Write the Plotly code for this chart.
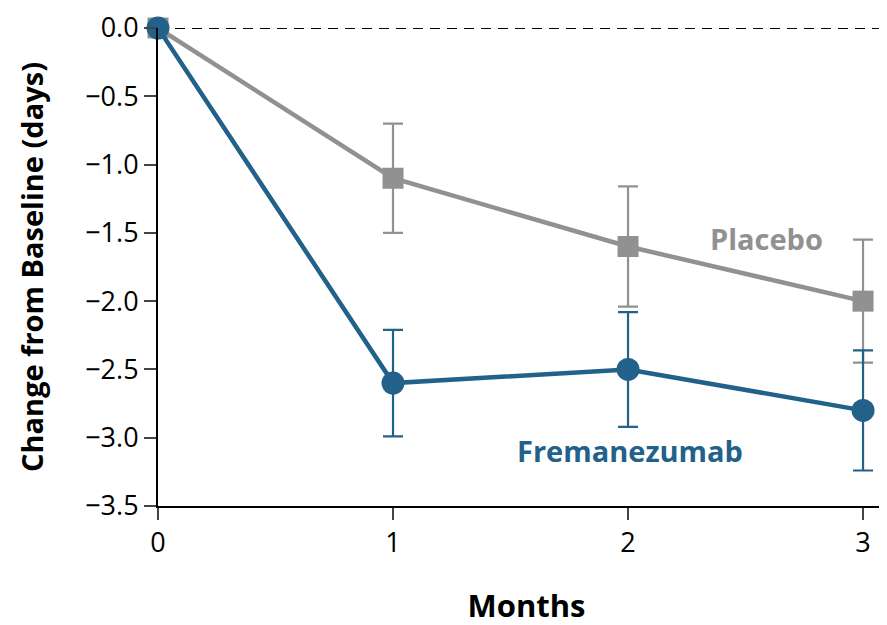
import plotly.graph_objects as go

months = [0, 1, 2, 3]
placebo = [0.0, -1.1, -1.6, -2.0]
placebo_err = [0.0, 0.40, 0.44, 0.45]
fremanezumab = [0.0, -2.6, -2.5, -2.8]
fremanezumab_err = [0.0, 0.39, 0.42, 0.44]
y_ticks = [0.0, -0.5, -1.0, -1.5, -2.0, -2.5, -3.0, -3.5]
y_ticktext = ["0.0", "\u22120.5", "\u22121.0", "\u22121.5", "\u22122.0", "\u22122.5", "\u22123.0", "\u22123.5"]
x_ticks = [0, 1, 2, 3]

GRAY = "#919191"
BLUE = "#22618a"
FONT = "Open Sans"

fig = go.Figure()
fig.add_hline(y=0, line=dict(color="black", width=2, dash="10px,7px"), layer="below")

fig.add_trace(go.Scatter(
    x=months, y=placebo, mode="lines+markers", name="Placebo",
    line=dict(color=GRAY, width=4.5),
    marker=dict(symbol="square", size=21, color=GRAY),
    error_y=dict(type="data", array=placebo_err, visible=True, color=GRAY, thickness=2.2, width=10),
    cliponaxis=False,
))
fig.add_trace(go.Scatter(
    x=months, y=fremanezumab, mode="lines+markers", name="Fremanezumab",
    line=dict(color=BLUE, width=4.5),
    marker=dict(symbol="circle", size=23, color=BLUE),
    error_y=dict(type="data", array=fremanezumab_err, visible=True, color=BLUE, thickness=2.2, width=10),
    cliponaxis=False,
))

fig.add_annotation(x=2.59, y=-1.54, text="<b>Placebo</b>", showarrow=False,
                   font=dict(family=FONT, size=29, color=GRAY), xanchor="center", yanchor="middle")
fig.add_annotation(x=2.01, y=-3.09, text="<b>Fremanezumab</b>", showarrow=False,
                   font=dict(family=FONT, size=29, color=BLUE), xanchor="center", yanchor="middle")

fig.update_layout(
    width=887, height=625,
    margin=dict(l=150, r=0, t=20, b=127),
    paper_bgcolor="white", plot_bgcolor="white",
    showlegend=False,
    font=dict(family=FONT, size=27, color="black"),
    xaxis=dict(range=[0, 3.136], tickvals=x_ticks, ticks="outside", ticklen=12, tickwidth=2,
               showline=True, linecolor="black", linewidth=2, showgrid=False, zeroline=False,
               automargin=False, ticklabeloverflow="allow",
               title=dict(text="<b>Months</b>", font=dict(size=31), standoff=36),
               tickfont=dict(size=27)),
    yaxis=dict(range=[-3.5, 0.0], tickvals=y_ticks, ticktext=y_ticktext, ticks="outside", ticklen=12,
               tickwidth=2, showline=True, linecolor="black", linewidth=2, showgrid=False,
               zeroline=False, automargin=False, ticklabeloverflow="allow",
               title=dict(text="<b>Change from Baseline (days)</b>", font=dict(size=29), standoff=33),
               tickfont=dict(size=27)),
)

fig.write_html("out.html")
